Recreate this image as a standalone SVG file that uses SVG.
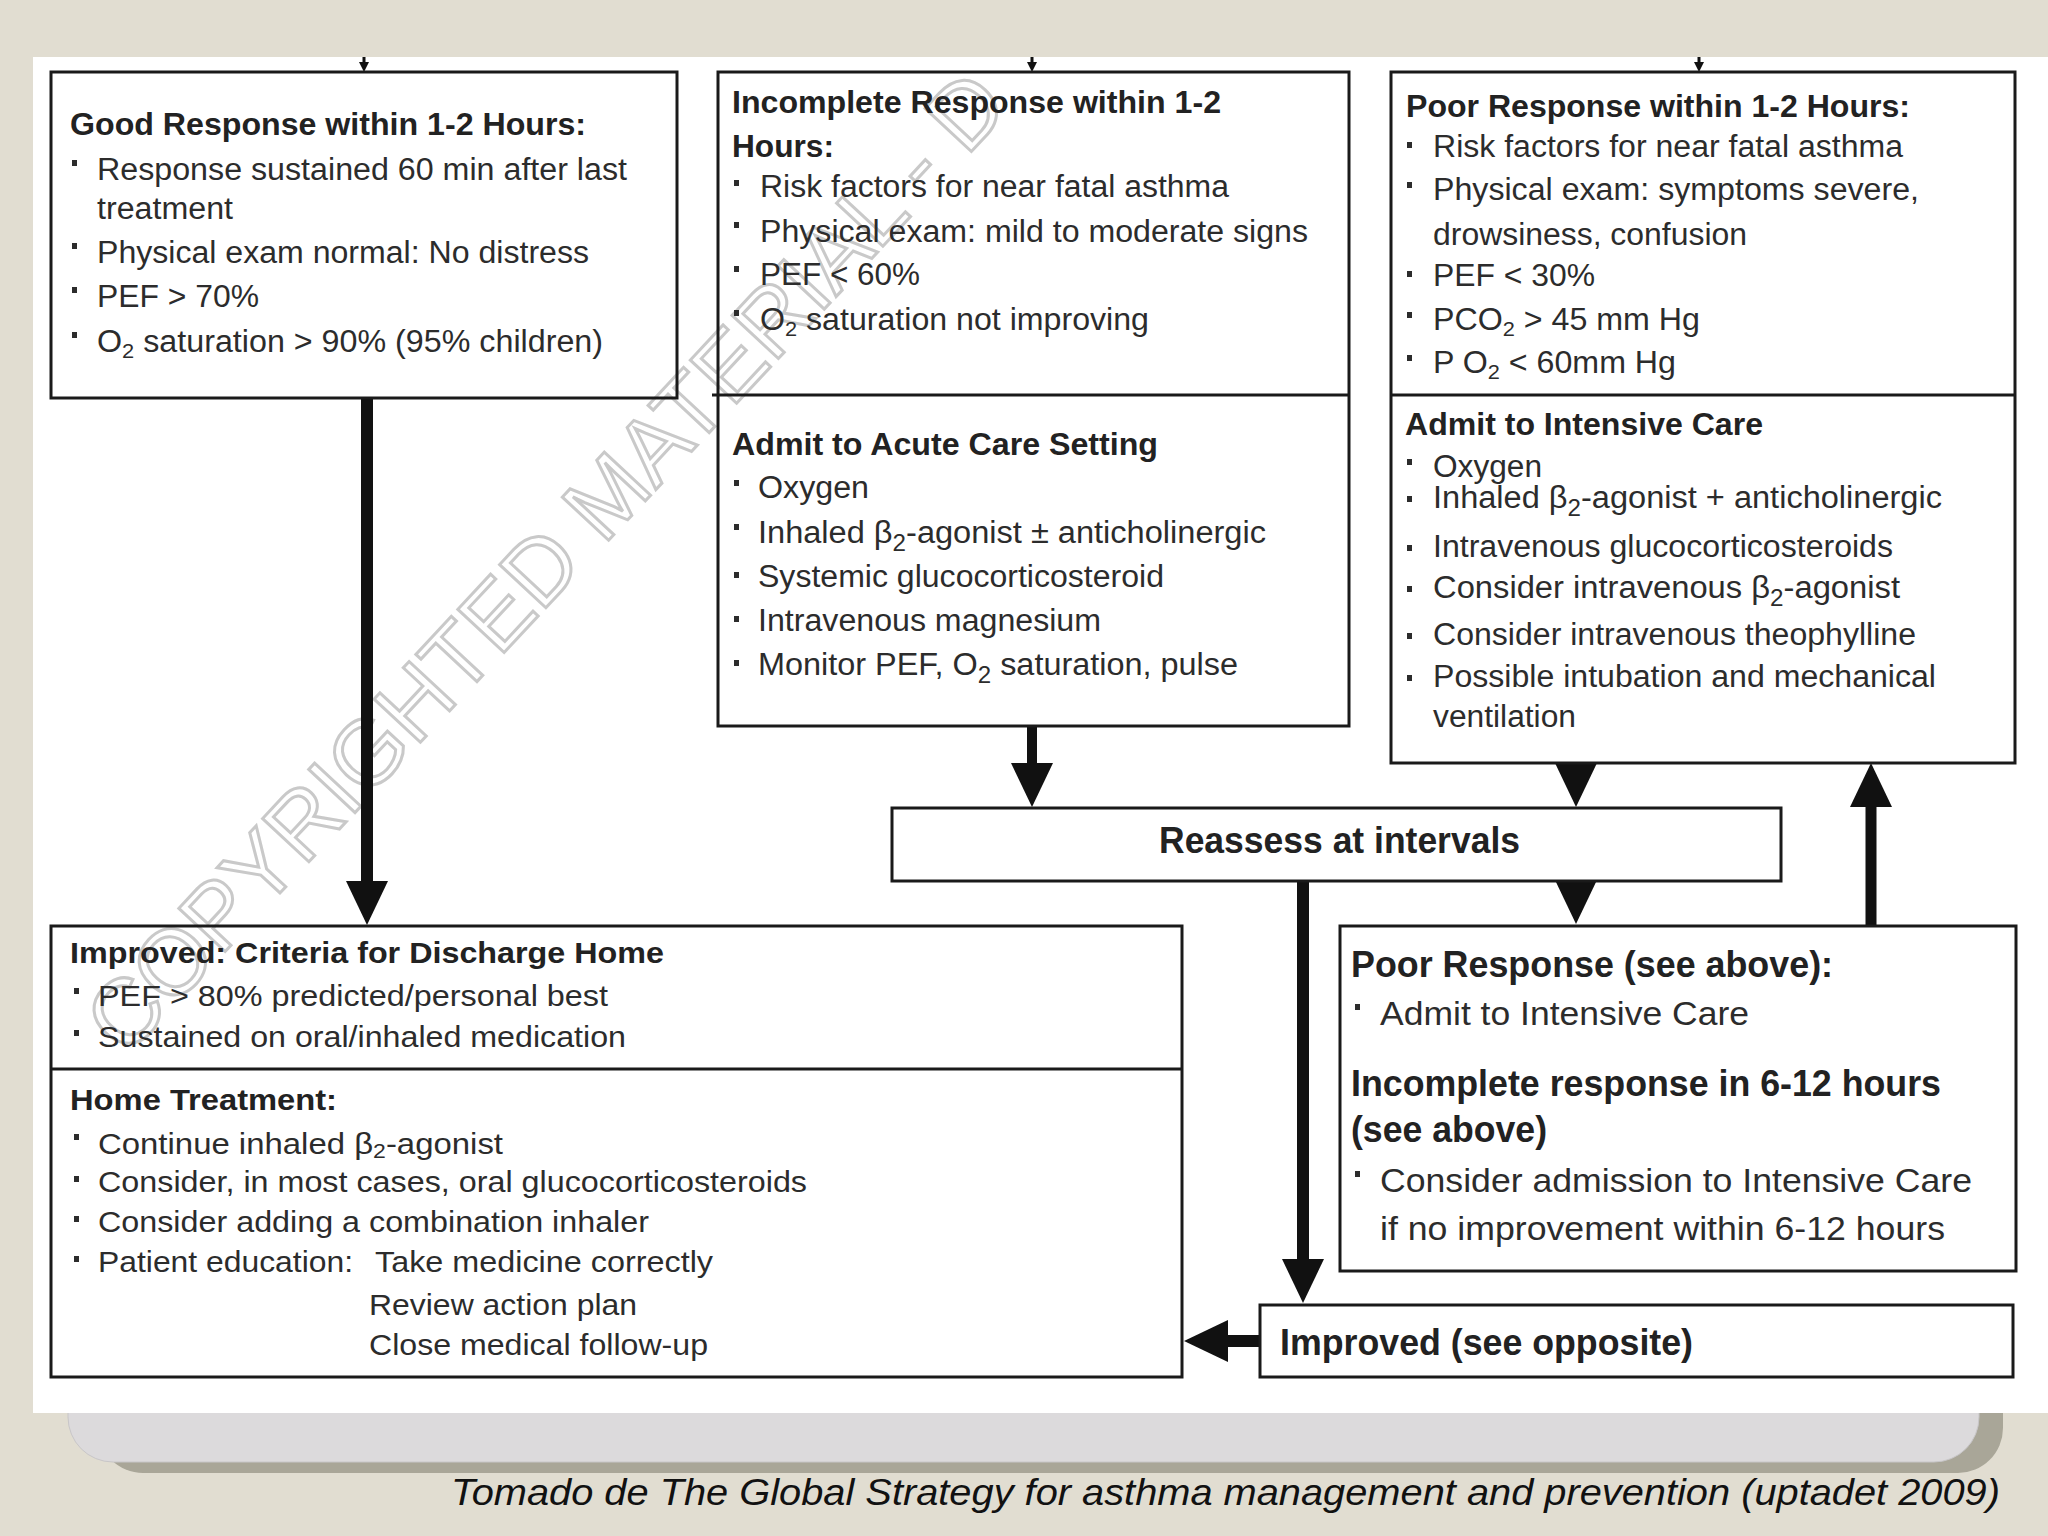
<svg xmlns="http://www.w3.org/2000/svg" width="2048" height="1536" viewBox="0 0 2048 1536">
<style>
.bx{fill:none;stroke:#1a1a1a;stroke-width:3}
.dv{stroke:#1a1a1a;stroke-width:3}
text{font-family:"Liberation Sans",Arial,sans-serif;fill:#222}
.h{font-size:31px;font-weight:bold}
.b{font-size:31px;fill:#2c2c2c}
.h2{font-size:30px;font-weight:bold}
.b2{font-size:30px;fill:#2c2c2c}
.h3{font-size:36px;font-weight:bold}
.b3{font-size:34px;fill:#2c2c2c}
.bu{fill:#2c2c2c}
.cn{stroke:#111;fill:none}
.wm{font-size:92px;fill:none;stroke:#c9c9c9;stroke-width:3}
.cap{font-size:37px;font-style:italic;fill:#111}
</style>
<defs>
<marker id="ah" markerUnits="userSpaceOnUse" markerWidth="44" markerHeight="42" viewBox="0 0 44 42" refX="14" refY="21" orient="auto"><path d="M0,0 L44,21 L0,42 z" fill="#111"/></marker>
<marker id="ahs" markerUnits="userSpaceOnUse" markerWidth="10" markerHeight="10" viewBox="0 0 10 10" refX="0" refY="5" orient="auto"><path d="M0,0 L10,5 L0,10 z" fill="#111"/></marker>
<clipPath id="wp"><rect x="33" y="57" width="2015" height="1356"/></clipPath>
</defs>

<g id="background">
<rect x="0" y="0" width="2048" height="1536" fill="#e1ddd1"/>
<path d="M98,1413 H2003 V1428 A45,45 0 0 1 1958,1473 H143 A45,45 0 0 1 98,1428 Z" fill="#a9a698"/>
<path d="M68,1400 H1979 V1417 A45,45 0 0 1 1934,1462 H113 A45,45 0 0 1 68,1417 Z" fill="#dcdadc" stroke="#c8c6c8" stroke-width="1"/>
<rect x="33" y="57" width="2015" height="1356" fill="#ffffff"/>
</g>

<g id="watermark" clip-path="url(#wp)">
<text class="wm" transform="translate(126,1058) rotate(-47)">COPYRIGHTED MATERIAL - D</text>
</g>

<g id="connectors">
<line class="cn" x1="364" y1="57" x2="364" y2="62" stroke-width="3" marker-end="url(#ahs)"/>
<line class="cn" x1="1032" y1="57" x2="1032" y2="62" stroke-width="3" marker-end="url(#ahs)"/>
<line class="cn" x1="1699" y1="57" x2="1699" y2="62" stroke-width="3" marker-end="url(#ahs)"/>
<line class="cn" x1="367" y1="398" x2="367" y2="895" stroke-width="12" marker-end="url(#ah)"/>
<line class="cn" x1="1032" y1="726" x2="1032" y2="777" stroke-width="10" marker-end="url(#ah)"/>
<line class="cn" x1="1576" y1="763" x2="1576" y2="777" stroke-width="10" marker-end="url(#ah)"/>
<line class="cn" x1="1576" y1="882" x2="1576" y2="894" stroke-width="10" marker-end="url(#ah)"/>
<line class="cn" x1="1303" y1="882" x2="1303" y2="1273" stroke-width="12" marker-end="url(#ah)"/>
<line class="cn" x1="1871" y1="926" x2="1871" y2="793" stroke-width="11" marker-end="url(#ah)"/>
<line class="cn" x1="1259" y1="1341" x2="1214" y2="1341" stroke-width="12" marker-end="url(#ah)"/>
</g>

<g id="good-response">
<rect class="bx" x="51" y="72" width="626" height="326"/>
<text class="h" x="70" y="135" textLength="516" lengthAdjust="spacingAndGlyphs">Good Response within 1-2 Hours:</text>
<rect class="bu" x="72" y="160" width="5" height="6"/>
<text class="b" x="97" y="180" textLength="530" lengthAdjust="spacingAndGlyphs">Response sustained 60 min after last</text>
<text class="b" x="97" y="219" textLength="136" lengthAdjust="spacingAndGlyphs">treatment</text>
<rect class="bu" x="72" y="243" width="5" height="6"/>
<text class="b" x="97" y="263" textLength="492" lengthAdjust="spacingAndGlyphs">Physical exam normal: No distress</text>
<rect class="bu" x="72" y="287" width="5" height="6"/>
<text class="b" x="97" y="307" textLength="162" lengthAdjust="spacingAndGlyphs">PEF &gt; 70%</text>
<rect class="bu" x="72" y="332" width="5" height="6"/>
<text class="b" x="97" y="352" textLength="506" lengthAdjust="spacingAndGlyphs">O<tspan font-size="21" dy="6">2</tspan><tspan dy="-6"> saturation &gt; 90% (95% children)</tspan></text>
</g>

<g id="incomplete-response">
<rect class="bx" x="718" y="72" width="631" height="654"/>
<line class="dv" x1="712" y1="395" x2="1349" y2="395"/>
<text class="h" x="732" y="113" textLength="489" lengthAdjust="spacingAndGlyphs">Incomplete Response within 1-2</text>
<text class="h" x="732" y="157" textLength="102" lengthAdjust="spacingAndGlyphs">Hours:</text>
<rect class="bu" x="734" y="180" width="5" height="6"/>
<text class="b" x="760" y="197" textLength="469" lengthAdjust="spacingAndGlyphs">Risk factors for near fatal asthma</text>
<rect class="bu" x="734" y="222" width="5" height="6"/>
<text class="b" x="760" y="242" textLength="548" lengthAdjust="spacingAndGlyphs">Physical exam: mild to moderate signs</text>
<rect class="bu" x="734" y="266" width="5" height="6"/>
<text class="b" x="760" y="285" textLength="160" lengthAdjust="spacingAndGlyphs">PEF &lt; 60%</text>
<rect class="bu" x="734" y="310" width="5" height="6"/>
<text class="b" x="760" y="330" textLength="389" lengthAdjust="spacingAndGlyphs">O<tspan font-size="21" dy="6">2</tspan><tspan dy="-6"> saturation not improving</tspan></text>
<text class="h" x="732" y="455" textLength="426" lengthAdjust="spacingAndGlyphs">Admit to Acute Care Setting</text>
<rect class="bu" x="734" y="480" width="5" height="6"/>
<text class="b" x="758" y="498" textLength="111" lengthAdjust="spacingAndGlyphs">Oxygen</text>
<rect class="bu" x="734" y="524" width="5" height="6"/>
<text class="b" x="758" y="543" textLength="508" lengthAdjust="spacingAndGlyphs">Inhaled β<tspan font-size="23" dy="8">2</tspan><tspan dy="-8">-agonist ± anticholinergic</tspan></text>
<rect class="bu" x="734" y="572" width="5" height="6"/>
<text class="b" x="758" y="587" textLength="406" lengthAdjust="spacingAndGlyphs">Systemic glucocorticosteroid</text>
<rect class="bu" x="734" y="616" width="5" height="6"/>
<text class="b" x="758" y="631" textLength="343" lengthAdjust="spacingAndGlyphs">Intravenous magnesium</text>
<rect class="bu" x="734" y="660" width="5" height="6"/>
<text class="b" x="758" y="675" textLength="480" lengthAdjust="spacingAndGlyphs">Monitor PEF, O<tspan font-size="23" dy="8">2</tspan><tspan dy="-8"> saturation, pulse</tspan></text>
</g>

<g id="poor-response">
<rect class="bx" x="1391" y="72" width="624" height="691"/>
<line class="dv" x1="1391" y1="395" x2="2015" y2="395"/>
<text class="h" x="1406" y="117" textLength="504" lengthAdjust="spacingAndGlyphs">Poor Response within 1-2 Hours:</text>
<rect class="bu" x="1407" y="142" width="5" height="6"/>
<text class="b" x="1433" y="157" textLength="470" lengthAdjust="spacingAndGlyphs">Risk factors for near fatal asthma</text>
<rect class="bu" x="1407" y="182" width="5" height="6"/>
<text class="b" x="1433" y="200" textLength="486" lengthAdjust="spacingAndGlyphs">Physical exam: symptoms severe,</text>
<text class="b" x="1433" y="245" textLength="314" lengthAdjust="spacingAndGlyphs">drowsiness, confusion</text>
<rect class="bu" x="1407" y="271" width="5" height="6"/>
<text class="b" x="1433" y="286" textLength="162" lengthAdjust="spacingAndGlyphs">PEF &lt; 30%</text>
<rect class="bu" x="1407" y="312" width="5" height="6"/>
<text class="b" x="1433" y="330" textLength="267" lengthAdjust="spacingAndGlyphs">PCO<tspan font-size="21" dy="6">2</tspan><tspan dy="-6"> &gt; 45 mm Hg</tspan></text>
<rect class="bu" x="1407" y="355" width="5" height="6"/>
<text class="b" x="1433" y="373" textLength="243" lengthAdjust="spacingAndGlyphs">P O<tspan font-size="21" dy="6">2</tspan><tspan dy="-6"> &lt; 60mm Hg</tspan></text>
<text class="h" x="1405" y="435" textLength="358" lengthAdjust="spacingAndGlyphs">Admit to Intensive Care</text>
<rect class="bu" x="1407" y="459" width="5" height="6"/>
<text class="b" x="1433" y="477" textLength="109" lengthAdjust="spacingAndGlyphs">Oxygen</text>
<rect class="bu" x="1407" y="496" width="5" height="6"/>
<text class="b" x="1433" y="508" textLength="509" lengthAdjust="spacingAndGlyphs">Inhaled β<tspan font-size="23" dy="8">2</tspan><tspan dy="-8">-agonist + anticholinergic</tspan></text>
<rect class="bu" x="1407" y="545" width="5" height="6"/>
<text class="b" x="1433" y="557" textLength="460" lengthAdjust="spacingAndGlyphs">Intravenous glucocorticosteroids</text>
<rect class="bu" x="1407" y="586" width="5" height="6"/>
<text class="b" x="1433" y="598" textLength="467" lengthAdjust="spacingAndGlyphs">Consider intravenous β<tspan font-size="23" dy="8">2</tspan><tspan dy="-8">-agonist</tspan></text>
<rect class="bu" x="1407" y="633" width="5" height="6"/>
<text class="b" x="1433" y="645" textLength="483" lengthAdjust="spacingAndGlyphs">Consider intravenous theophylline</text>
<rect class="bu" x="1407" y="675" width="5" height="6"/>
<text class="b" x="1433" y="687" textLength="503" lengthAdjust="spacingAndGlyphs">Possible intubation and mechanical</text>
<text class="b" x="1433" y="727" textLength="143" lengthAdjust="spacingAndGlyphs">ventilation</text>
</g>

<g id="reassess">
<rect class="bx" x="892" y="808" width="889" height="73"/>
<text class="h3" x="1159" y="853" textLength="361" lengthAdjust="spacingAndGlyphs">Reassess at intervals</text>
</g>

<g id="poor-response-see-above">
<rect class="bx" x="1340" y="926" width="676" height="345"/>
<text class="h3" x="1351" y="977" textLength="482" lengthAdjust="spacingAndGlyphs">Poor Response (see above):</text>
<rect class="bu" x="1355" y="1004" width="5" height="6"/>
<text class="b3" x="1380" y="1025" textLength="369" lengthAdjust="spacingAndGlyphs">Admit to Intensive Care</text>
<text class="h3" x="1351" y="1096" textLength="590" lengthAdjust="spacingAndGlyphs">Incomplete response in 6-12 hours</text>
<text class="h3" x="1351" y="1142" textLength="196" lengthAdjust="spacingAndGlyphs">(see above)</text>
<rect class="bu" x="1355" y="1171" width="5" height="6"/>
<text class="b3" x="1380" y="1192" textLength="592" lengthAdjust="spacingAndGlyphs">Consider admission to Intensive Care</text>
<text class="b3" x="1380" y="1240" textLength="565" lengthAdjust="spacingAndGlyphs">if no improvement within 6-12 hours</text>
</g>

<g id="improved-see-opposite">
<rect class="bx" x="1260" y="1305" width="753" height="72"/>
<text class="h3" x="1280" y="1355" textLength="413" lengthAdjust="spacingAndGlyphs">Improved (see opposite)</text>
</g>

<g id="discharge-home">
<rect class="bx" x="51" y="926" width="1131" height="451"/>
<line class="dv" x1="51" y1="1069" x2="1182" y2="1069"/>
<text class="h2" x="70" y="963" textLength="594" lengthAdjust="spacingAndGlyphs">Improved: Criteria for Discharge Home</text>
<rect class="bu" x="74" y="988" width="5" height="6"/>
<text class="b2" x="98" y="1006" textLength="510" lengthAdjust="spacingAndGlyphs">PEF &gt; 80% predicted/personal best</text>
<rect class="bu" x="74" y="1030" width="5" height="6"/>
<text class="b2" x="98" y="1047" textLength="528" lengthAdjust="spacingAndGlyphs">Sustained on oral/inhaled medication</text>
<text class="h2" x="70" y="1110" textLength="267" lengthAdjust="spacingAndGlyphs">Home Treatment:</text>
<rect class="bu" x="74" y="1134" width="5" height="6"/>
<text class="b2" x="98" y="1154" textLength="405" lengthAdjust="spacingAndGlyphs">Continue inhaled β<tspan font-size="21" dy="4">2</tspan><tspan dy="-4">-agonist</tspan></text>
<rect class="bu" x="74" y="1176" width="5" height="6"/>
<text class="b2" x="98" y="1192" textLength="709" lengthAdjust="spacingAndGlyphs">Consider, in most cases, oral glucocorticosteroids</text>
<rect class="bu" x="74" y="1216" width="5" height="6"/>
<text class="b2" x="98" y="1232" textLength="551" lengthAdjust="spacingAndGlyphs">Consider adding a combination inhaler</text>
<rect class="bu" x="74" y="1256" width="5" height="6"/>
<text class="b2" x="98" y="1272" textLength="255" lengthAdjust="spacingAndGlyphs">Patient education:</text>
<text class="b2" x="375" y="1272" textLength="338" lengthAdjust="spacingAndGlyphs">Take medicine correctly</text>
<text class="b2" x="369" y="1315" textLength="268" lengthAdjust="spacingAndGlyphs">Review action plan</text>
<text class="b2" x="369" y="1355" textLength="339" lengthAdjust="spacingAndGlyphs">Close medical follow-up</text>
</g>

<g id="caption">
<text class="cap" x="451" y="1505" textLength="1549" lengthAdjust="spacingAndGlyphs">Tomado de The Global Strategy for asthma management and prevention (uptadet 2009)</text>
</g>
</svg>
